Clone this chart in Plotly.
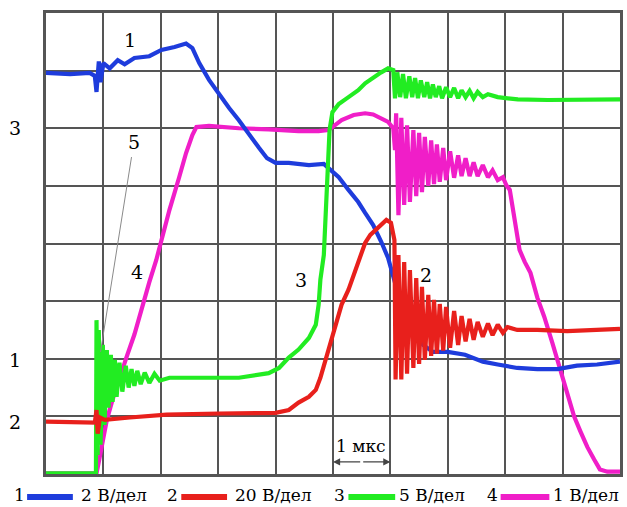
import plotly.graph_objects as go

# Oscilloscope record: time in divisions (1 div = 1 us), amplitude in screen divisions
# Channel 1 (blue), 2 V/div
t1 = [0, 0.42, 0.76, 0.85, 0.88, 0.92, 0.95, 1.0, 1.11, 1.25, 1.37, 1.54, 1.80, 2.01, 2.24,
      2.44, 2.55, 2.67, 2.84, 3.02, 3.19, 3.36, 3.54, 3.71, 3.85, 4.00, 4.23, 4.58, 4.84, 4.97,
      5.10, 5.27, 5.44, 5.56, 5.70, 5.84, 5.96, 6.08, 6.22, 6.40, 6.57, 6.74, 7.00, 7.30, 7.61,
      7.87, 8.21, 8.56, 8.91, 9.25, 9.60, 10.0]
u1 = [6.96, 6.94, 6.96, 6.91, 6.63, 7.16, 6.80, 7.13, 7.04, 7.18, 7.11, 7.22, 7.25, 7.36, 7.41,
      7.47, 7.39, 7.13, 6.84, 6.58, 6.35, 6.14, 5.88, 5.66, 5.48, 5.40, 5.40, 5.36, 5.38, 5.27,
      5.15, 4.93, 4.72, 4.53, 4.32, 4.03, 3.75, 3.32, 2.93, 2.54, 2.24, 2.12, 2.12, 2.07, 1.95,
      1.90, 1.84, 1.82, 1.82, 1.88, 1.90, 1.95]

# Channel 2 (red), 20 V/div
t2 = [0, 0.85, 0.88, 0.90, 0.94, 1.02, 1.46, 2.10, 3.02, 4.00, 4.23, 4.40, 4.58, 4.70, 4.78,
      4.87, 4.96, 5.04, 5.15, 5.27, 5.39, 5.49, 5.56, 5.65, 5.74, 5.84, 5.93, 6.01, 6.07, 6.09,
      6.14, 6.19, 6.24, 6.29, 6.34, 6.40, 6.45, 6.50, 6.55, 6.60, 6.66, 6.71, 6.76, 6.81, 6.86,
      6.92, 6.97, 7.04, 7.11, 7.18, 7.24, 7.31, 7.38, 7.45, 7.52, 7.61, 7.70, 7.78, 7.87, 7.96,
      8.04, 8.21, 8.56, 9.08, 9.60, 10.0]
u2 = [0.91, 0.89, 1.11, 0.70, 0.98, 0.94, 0.98, 1.03, 1.05, 1.06, 1.11, 1.24, 1.34, 1.46, 1.67,
      1.98, 2.33, 2.62, 2.94, 3.20, 3.54, 3.80, 4.01, 4.15, 4.23, 4.34, 4.41, 4.36, 4.06, 1.64,
      3.80, 1.64, 3.68, 1.74, 3.54, 1.84, 3.40, 1.91, 3.25, 1.98, 3.11, 2.05, 3.02, 2.09, 2.95,
      2.14, 2.90, 2.19, 2.83, 2.24, 2.74, 2.30, 2.69, 2.33, 2.64, 2.38, 2.61, 2.41, 2.59, 2.45,
      2.55, 2.50, 2.50, 2.48, 2.50, 2.52]

# Channel 3 (green), 5 V/div
t3 = [0, 0.87, 0.88, 0.90, 0.92, 0.95, 0.99, 1.02, 1.06, 1.09, 1.13, 1.16, 1.20, 1.23, 1.28,
      1.33, 1.39, 1.44, 1.49, 1.54, 1.59, 1.65, 1.72, 1.80, 1.89, 1.98, 2.15, 2.67, 3.36, 3.88,
      4.06, 4.23, 4.40, 4.58, 4.70, 4.75, 4.78, 4.84, 4.87, 4.90, 4.94, 4.99, 5.10, 5.27, 5.44,
      5.56, 5.70, 5.84, 5.96, 6.05, 6.08, 6.12, 6.17, 6.22, 6.27, 6.33, 6.38, 6.43, 6.48, 6.53,
      6.59, 6.64, 6.69, 6.74, 6.79, 6.85, 6.90, 6.97, 7.04, 7.11, 7.18, 7.24, 7.31, 7.38, 7.45,
      7.52, 7.61, 7.70, 7.87, 8.22, 8.74, 9.26, 9.60, 10.0]
u3 = [0.01, 0.01, 2.67, 0.33, 2.50, 0.51, 2.24, 0.85, 2.15, 1.15, 2.07, 1.25, 1.98, 1.34, 1.93,
      1.43, 1.88, 1.50, 1.82, 1.53, 1.79, 1.56, 1.76, 1.58, 1.74, 1.62, 1.67, 1.67, 1.67, 1.75,
      1.84, 2.02, 2.16, 2.36, 2.59, 2.94, 3.37, 3.80, 4.49, 5.36, 5.97, 6.28, 6.42, 6.54, 6.66,
      6.78, 6.88, 6.97, 7.04, 7.01, 6.52, 6.97, 6.54, 6.94, 6.52, 6.90, 6.54, 6.87, 6.52, 6.83,
      6.54, 6.80, 6.52, 6.76, 6.54, 6.73, 6.52, 6.71, 6.54, 6.70, 6.52, 6.66, 6.54, 6.65, 6.52,
      6.63, 6.54, 6.59, 6.54, 6.50, 6.49, 6.49, 6.49, 6.50]

# Channel 4 (magenta), 1 V/div
t4 = [0, 0.88, 0.92, 0.99, 1.06, 1.16, 1.28, 1.40, 1.54, 1.68, 1.80, 1.92, 2.03, 2.15, 2.32,
      2.44, 2.55, 2.62, 2.84, 3.36, 3.88, 4.40, 4.75, 4.92, 5.03, 5.15, 5.36, 5.56, 5.70, 5.84,
      5.96, 6.05, 6.08, 6.10, 6.14, 6.19, 6.24, 6.29, 6.34, 6.40, 6.45, 6.50, 6.55, 6.60, 6.66,
      6.71, 6.76, 6.81, 6.86, 6.92, 6.97, 7.04, 7.11, 7.18, 7.24, 7.31, 7.38, 7.45, 7.52, 7.61,
      7.70, 7.78, 7.87, 7.96, 8.02, 8.08, 8.15, 8.25, 8.34, 8.44, 8.56, 8.68, 8.82, 8.96, 9.08,
      9.20, 9.31, 9.43, 9.55, 9.65, 9.78, 10.0]
u4 = [0.01, 0.01, 0.21, 0.60, 0.94, 1.29, 1.67, 2.02, 2.42, 2.94, 3.33, 3.71, 4.15, 4.58, 5.15,
      5.57, 5.88, 6.02, 6.04, 6.00, 5.98, 5.95, 5.95, 5.97, 6.05, 6.14, 6.23, 6.26, 6.24, 6.18,
      6.11, 6.00, 5.62, 6.26, 4.49, 6.18, 4.67, 6.05, 4.72, 5.97, 4.82, 5.92, 4.89, 5.85, 5.00,
      5.79, 5.03, 5.72, 5.07, 5.66, 5.10, 5.60, 5.14, 5.53, 5.17, 5.48, 5.17, 5.41, 5.17, 5.36,
      5.15, 5.27, 5.10, 5.15, 5.01, 4.93, 4.49, 3.89, 3.68, 3.49, 3.06, 2.73, 2.28, 1.81, 1.37,
      1.00, 0.74, 0.47, 0.25, 0.08, 0.04, 0.04]

# Channel reference levels (divisions) shown by the side markers
ref_levels = {"3": 6.0, "1": 1.97, "2": 0.91}

channel_names = ["1", "2", "3", "4"]
channel_scales = ["2 В/дел", "20 В/дел", "5 В/дел", "1 В/дел"]

BLUE = "#1e3cdc"
RED = "#e8201c"
GREEN = "#22ec22"
MAGENTA = "#f01ec8"
GRID = "#555555"
SERIF = "DejaVu Serif"

fig = go.Figure()
line_w = 4.2
# draw order: magenta, blue, green, red (red on top)
fig.add_trace(go.Scatter(x=t4, y=u4, mode="lines", line=dict(color=MAGENTA, width=line_w)))
fig.add_trace(go.Scatter(x=t1, y=u1, mode="lines", line=dict(color=BLUE, width=line_w)))
fig.add_trace(go.Scatter(x=t3, y=u3, mode="lines", line=dict(color=GREEN, width=line_w)))
fig.add_trace(go.Scatter(x=t2, y=u2, mode="lines", line=dict(color=RED, width=line_w)))

# side level markers
fig.add_trace(go.Scatter(x=[-0.09, -0.1], y=[ref_levels["3"], ref_levels["1"]], mode="markers",
                         marker=dict(symbol="triangle-right", size=10, color=[GREEN, BLUE]),
                         cliponaxis=False))

annotations = []
def label(text, x, y, xref="x", size=19):
    annotations.append(dict(text=text, x=x, y=y, xref=xref, yref="y", showarrow=False,
                            xanchor="center", yanchor="middle",
                            font=dict(family=SERIF, size=size, color="black")))

# left-side channel numbers
label("3", -0.054, ref_levels["3"], xref="paper")
label("1", -0.054, ref_levels["1"], xref="paper")
label("2", -0.054, ref_levels["2"], xref="paper")
# curve labels
label("1", 1.46, 7.53)
label("5", 1.54, 5.76)
label("4", 1.58, 3.51)
label("3", 4.45, 3.37)
label("2", 6.62, 3.46)
label("1 мкс", 5.48, 0.49, size=17)

# time-scale double arrow between 5 and 6 us
for tip, tail in [(5.0, 5.5), (6.0, 5.5)]:
    annotations.append(dict(x=tip, y=0.21, ax=tail, ay=0.21, xref="x", yref="y",
                            axref="x", ayref="y", showarrow=True, arrowhead=2,
                            arrowsize=1.1, arrowwidth=1.3, arrowcolor="#444", text=""))

shapes = [dict(type="line", x0=1.49, y0=5.50, x1=0.95, y1=2.12, xref="x", yref="y",
               line=dict(color="#8a8a8a", width=1))]

# bottom legend: number, colour bar, scale
def px_x(px):
    return (px - 46) / 577.0

leg_y = -0.046
leg_items = [(12, 27, 73, 79), (166, 182, 228, 234), (333, 350, 397, 399), (487, 503, 552, 554)]
colors = [BLUE, RED, GREEN, MAGENTA]
for (nx, l0, l1, sx), name, scale, col in zip(leg_items, channel_names, channel_scales, colors):
    for txt, xx in [(name, nx), (scale, sx)]:
        annotations.append(dict(text=txt, x=px_x(xx), y=leg_y, xref="paper", yref="paper",
                                xanchor="left", yanchor="middle", showarrow=False,
                                font=dict(family=SERIF, size=17, color="black")))
    shapes.append(dict(type="line", x0=px_x(l0), x1=px_x(l1), y0=leg_y - 0.004, y1=leg_y - 0.004,
                       xref="paper", yref="paper", line=dict(color=col, width=6)))

axis_common = dict(showgrid=True, gridcolor=GRID, gridwidth=2.2, zeroline=False,
                   showticklabels=False, ticks="", showline=True, mirror=True,
                   linecolor=GRID, linewidth=2.5, fixedrange=True)

fig.update_layout(
    width=627, height=507,
    margin=dict(l=46, r=4, t=13, b=33),
    paper_bgcolor="white", plot_bgcolor="white",
    showlegend=False,
    font=dict(family=SERIF),
    xaxis=dict(range=[0, 10], dtick=1, **axis_common),
    yaxis=dict(range=[0, 8], dtick=1, **axis_common),
    annotations=annotations,
    shapes=shapes,
)

fig.write_html("out.html")
